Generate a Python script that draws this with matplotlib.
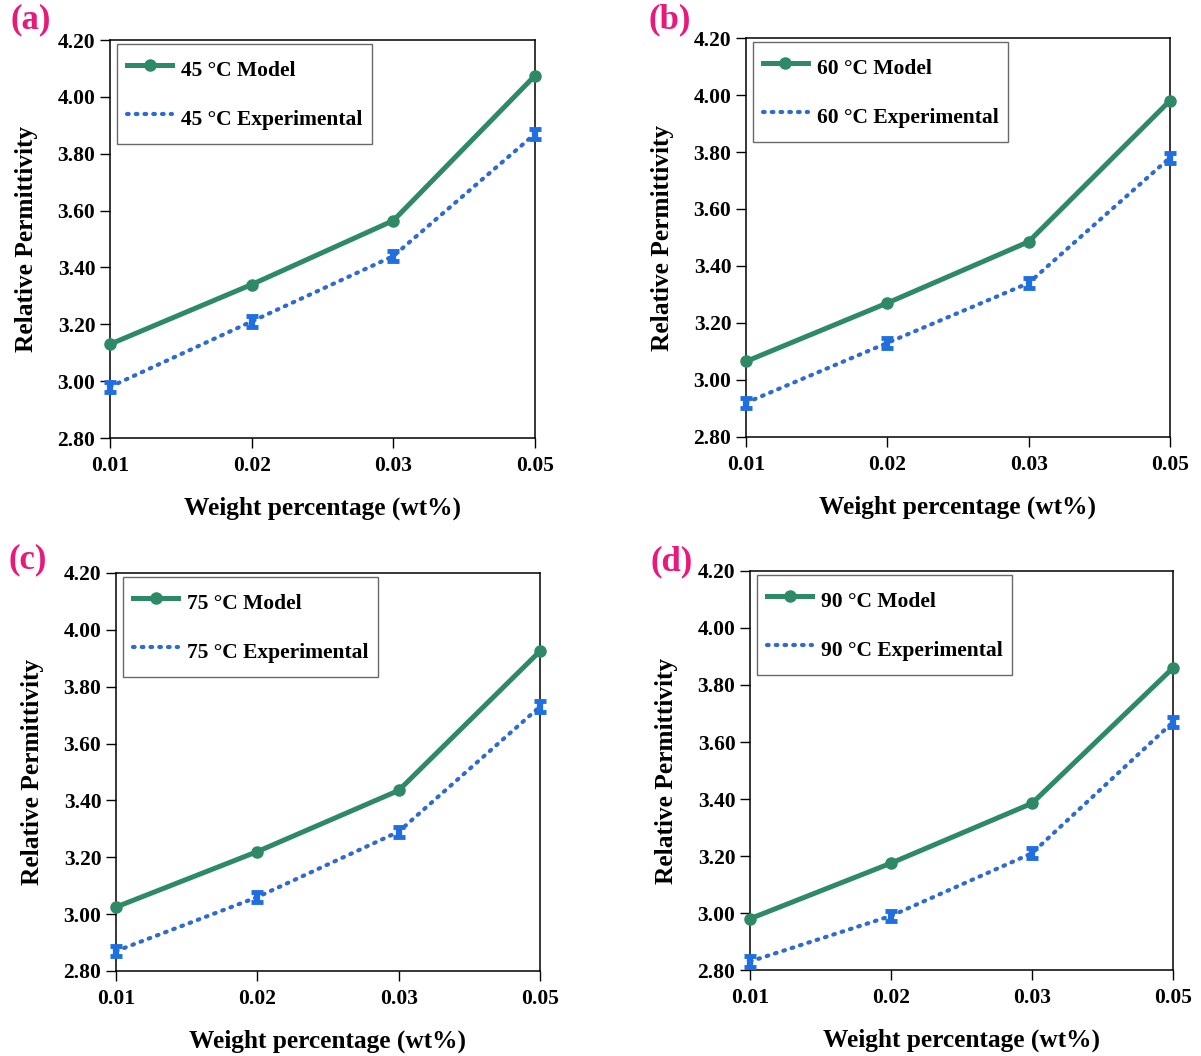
import matplotlib.pyplot as plt
import numpy as np

# Data
wt_labels = ['0.01', '0.02', '0.03', '0.05']
temps = ['45', '60', '75', '90']
panel_tags = ['(a)', '(b)', '(c)', '(d)']

model_45 = [3.13, 3.34, 3.565, 4.075]
exp_45 = [2.98, 3.21, 3.44, 3.87]
model_60 = [3.065, 3.27, 3.485, 3.98]
exp_60 = [2.92, 3.13, 3.34, 3.78]
model_75 = [3.025, 3.22, 3.435, 3.925]
exp_75 = [2.87, 3.06, 3.29, 3.73]
model_90 = [2.98, 3.175, 3.385, 3.86]
exp_90 = [2.83, 2.99, 3.21, 3.67]
exp_err = [0.018, 0.018, 0.018, 0.018]

models = [model_45, model_60, model_75, model_90]
exps = [exp_45, exp_60, exp_75, exp_90]

plt.rcParams['font.family'] = ['Liberation Serif', 'DejaVu Serif']
plt.rcParams['font.weight'] = 'bold'

green = '#2e8a66'
blue = '#2f6bcc'
err_blue = '#1f6fe0'

fig = plt.figure(figsize=(12.01, 10.56), dpi=100)

# axes boxes (left, bottom, width, height) in figure fractions
boxes = [
    [0.0916, 0.5852, 0.3539, 0.3769],
    [0.6211, 0.5862, 0.3530, 0.3778],
    [0.0966, 0.0805, 0.3530, 0.3769],
    [0.6245, 0.0814, 0.3522, 0.3779],
]
# panel tag positions (pixels from top-left)
tag_pos = [(10, 20), (648, 20), (8, 560), (650, 562)]

x = np.arange(len(wt_labels))

for i in range(4):
    ax = fig.add_axes(boxes[i])
    ax.plot(x, models[i], color=green, lw=3.6, marker='o', ms=8,
            label=temps[i] + ' °C Model', zorder=3, clip_on=False)
    ax.plot(x, exps[i], color=blue, lw=3, ls=(0, (0.4, 1.7)),
            dash_capstyle='round', label=temps[i] + ' °C Experimental',
            zorder=2, clip_on=False)
    eb = ax.errorbar(x, exps[i], yerr=exp_err, fmt='none', ecolor=err_blue,
                     elinewidth=4.5, capsize=4.5, capthick=3.5, zorder=4)
    for art in eb.lines[1] + eb.lines[2]:
        art.set_clip_on(False)

    ax.set_xlim(0, 3)
    ax.set_ylim(2.8, 4.2)
    ax.set_yticks(np.arange(2.8, 4.21, 0.2))
    ax.set_yticklabels(['%.2f' % v for v in np.arange(2.8, 4.21, 0.2)])
    ax.set_xticks(x)
    ax.set_xticklabels(wt_labels)
    ax.tick_params(axis='both', labelsize=15.5, length=7, width=1, direction='out')
    ax.tick_params(axis='x', pad=6)
    for lab in ax.get_xticklabels() + ax.get_yticklabels():
        lab.set_fontweight('bold')
    for sp in ax.spines.values():
        sp.set_linewidth(1.1)
        sp.set_color('black')

    ax.set_xlabel('Weight percentage (wt%)', fontsize=18.3, fontweight='bold', labelpad=15)
    ax.set_ylabel('Relative Permittivity', fontsize=18.3, fontweight='bold', labelpad=14)

    leg = ax.legend(loc='upper left', bbox_to_anchor=(0.012, 0.995),
                    frameon=True, fancybox=False, edgecolor='#444444',
                    handlelength=2.1, handleheight=1.87, labelspacing=0.81,
                    borderpad=0.45, handletextpad=0.4, borderaxespad=0.1,
                    prop={'weight': 'bold', 'size': 15.5})
    leg.get_frame().set_linewidth(1.0)

    fig.text(tag_pos[i][0] / 1201, 1 - tag_pos[i][1] / 1056, panel_tags[i],
             fontsize=25, fontweight='bold', color='#e8197a', va='center', ha='left')

fig.savefig('out.png', dpi=100)
